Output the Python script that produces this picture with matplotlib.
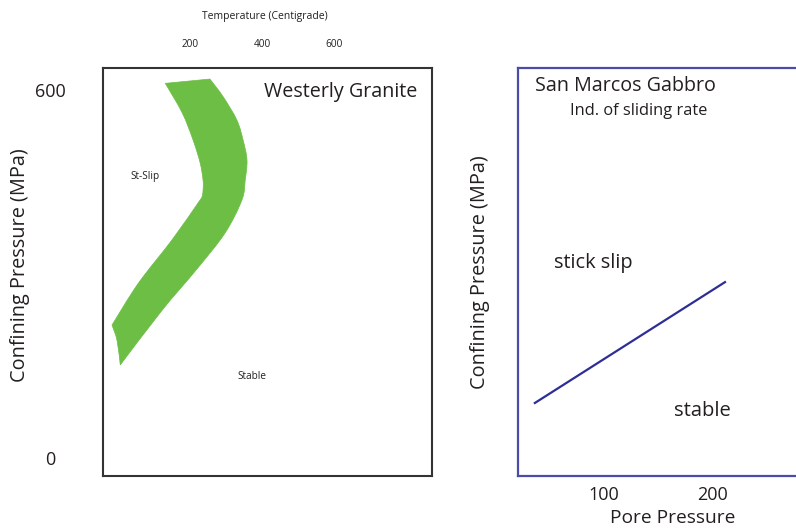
import matplotlib
matplotlib.use("Agg")
import matplotlib.pyplot as plt
from matplotlib.patches import PathPatch
from matplotlib.path import Path

plt.rcParams["font.family"] = ["Open Sans", "DejaVu Sans"]

# Westerly Granite: stick-slip / stable transition band (temperature vs confining pressure)
band_outer_temp = [255, 292, 330, 347, 358, 353, 344, 297, 217, 122, 6]
band_outer_pres = [618, 589, 551, 519, 486, 453, 421, 367, 307, 241, 152]
band_foot_temp = [6, -3, -17]
band_foot_pres = [152, 192, 217]
band_inner_temp = [-17, 56, 150, 222, 233, 236, 236, 228, 208, 178, 131]
band_inner_pres = [217, 285, 356, 416, 426, 437, 453, 481, 519, 563, 611]

temp_ticks = [200, 400, 600]
conf_ticks = [0, 600]

# San Marcos Gabbro: boundary in pore pressure vs confining pressure
pore_pressure = [36, 212]
confining_pressure = [90, 287]
pore_ticks = [100, 200]

text_color = "#231f20"
green = "#6cbe45"
frame_blue = "#4b4ba8"
line_blue = "#2e2e96"


def smooth_chain(xs, ys, verts, codes, start=False):
    """Append a chain through the given points as cubic Bezier segments
    (Catmull-Rom tangents, so the outline passes through every point)."""
    pts = list(zip(xs, ys))
    if start:
        verts.append(pts[0])
        codes.append(Path.MOVETO)
    n = len(pts)
    for i in range(n - 1):
        p0 = pts[i - 1] if i > 0 else pts[i]
        p1 = pts[i]
        p2 = pts[i + 1]
        p3 = pts[i + 2] if i + 2 < n else pts[i + 1]
        c1 = (p1[0] + (p2[0] - p0[0]) / 6, p1[1] + (p2[1] - p0[1]) / 6)
        c2 = (p2[0] - (p3[0] - p1[0]) / 6, p2[1] - (p3[1] - p1[1]) / 6)
        verts.extend([c1, c2, p2])
        codes.extend([Path.CURVE4] * 3)


fig = plt.figure(figsize=(7.96, 5.31), dpi=100)

# ---- left panel ----
ax = fig.add_axes([103 / 796, 55 / 531, 329 / 796, 408 / 531])
ax.set_xlim(-42, 872)
ax.set_ylim(-29, 636)
for s in ax.spines.values():
    s.set_color("#333333")
    s.set_linewidth(1.5)

verts, codes = [], []
smooth_chain(band_outer_temp, band_outer_pres, verts, codes, start=True)
smooth_chain(band_foot_temp, band_foot_pres, verts, codes)
smooth_chain(band_inner_temp, band_inner_pres, verts, codes)
verts.append(verts[0])
codes.append(Path.CLOSEPOLY)
ax.add_patch(PathPatch(Path(verts, codes), facecolor=green, edgecolor=green,
                       linewidth=0.5))

ax.xaxis.tick_top()
ax.set_xticks(temp_ticks)
ax.set_xticklabels([str(t) for t in temp_ticks], fontsize=7.2, color=text_color)
ax.tick_params(axis="x", length=0, pad=13)
ax.xaxis.set_label_position("top")
ax.set_xlabel("Temperature (Centigrade)", fontsize=7.5, color=text_color)
ax.xaxis.set_label_coords(0.492, 1.127)
ax.xaxis.label.set_va("center")

ax.set_yticks(conf_ticks)
ax.set_yticklabels([str(c) for c in conf_ticks], fontsize=13, color=text_color,
                   ha="center")
ax.tick_params(axis="y", length=0, pad=38)
ax.set_ylabel("Confining Pressure (MPa)", fontsize=14.3, color=text_color)
ax.yaxis.set_label_coords(-0.252, 0.517)
ax.yaxis.label.set_va("center")

ax.text(0.489, 0.941, "Westerly Granite", transform=ax.transAxes,
        fontsize=14.2, color=text_color, ha="left", va="center")
ax.text(0.128, 0.735, "St-Slip", transform=ax.transAxes,
        fontsize=7.2, color=text_color, ha="center", va="center")
ax.text(0.453, 0.245, "Stable", transform=ax.transAxes,
        fontsize=7.2, color=text_color, ha="center", va="center")

# ---- right panel ----
ax2 = fig.add_axes([518 / 796, 55 / 531, 284 / 796, 408 / 531])
ax2.set_xlim(20.4, 283.3)
ax2.set_ylim(-29, 636)
for s in ax2.spines.values():
    s.set_color(frame_blue)
    s.set_linewidth(1.6)

ax2.plot(pore_pressure, confining_pressure, color=line_blue, linewidth=1.6)

ax2.set_xticks(pore_ticks)
ax2.set_xticklabels([str(p) for p in pore_ticks], fontsize=13, color=text_color)
ax2.tick_params(axis="x", length=0, pad=7)
ax2.set_yticks([])
ax2.set_xlabel("Pore Pressure", fontsize=13.8, color=text_color)
ax2.xaxis.set_label_coords(0.546, -0.103)
ax2.xaxis.label.set_va("center")
ax2.set_ylabel("Confining Pressure (MPa)", fontsize=14.3, color=text_color)
ax2.yaxis.set_label_coords(-0.135, 0.5)
ax2.yaxis.label.set_va("center")

ax2.text(0.060, 0.956, "San Marcos Gabbro", transform=ax2.transAxes,
         fontsize=14.2, color=text_color, ha="left", va="center")
ax2.text(0.184, 0.895, "Ind. of sliding rate", transform=ax2.transAxes,
         fontsize=11.8, color=text_color, ha="left", va="center")
ax2.text(0.128, 0.522, "stick slip", transform=ax2.transAxes,
         fontsize=14.3, color=text_color, ha="left", va="center")
ax2.text(0.550, 0.159, "stable", transform=ax2.transAxes,
         fontsize=14.5, color=text_color, ha="left", va="center")

fig.savefig("out.png", dpi=100)
